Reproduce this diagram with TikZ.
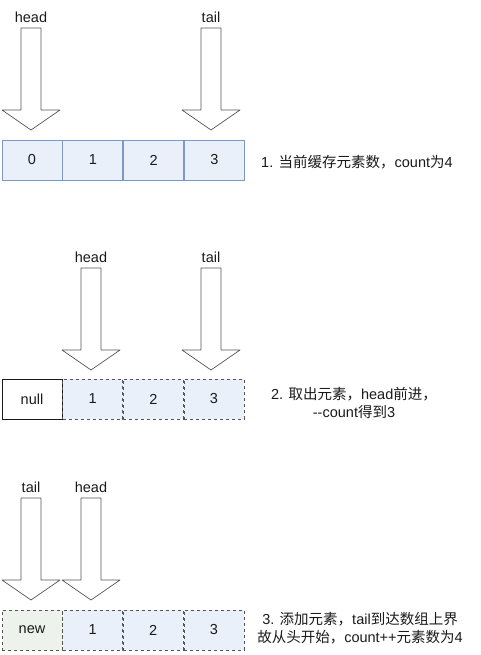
\documentclass[tikz,border=0pt]{standalone}
\usepackage{fontspec}
\setmainfont{Liberation Sans}
\newfontfamily\cjk{Noto Sans CJK SC}
\usepackage{tikz}
\usetikzlibrary{positioning}
\definecolor{cCellBlue}{HTML}{E9F0FA}
\definecolor{cBorderBlue}{HTML}{7C98C6}
\definecolor{cCellGreen}{HTML}{EEF2EC}
\definecolor{cInk}{HTML}{1A1A1A}
\definecolor{cArrow}{HTML}{555555}
\tikzset{
  cell/.style     ={draw, minimum width=60pt, minimum height=40pt, inner sep=0pt,
                    text=cInk, font=\fontsize{14.5}{17}\selectfont},
  bluecell/.style ={cell, fill=cCellBlue, draw=cBorderBlue, line width=0.8pt},
  dashcell/.style ={cell, fill=cCellBlue, draw=cArrow, dashed, line width=0.6pt},
  nullcell/.style ={cell, fill=white, draw=cInk, line width=0.8pt},
  newcell/.style  ={cell, fill=cCellGreen, draw=cArrow, dashed, line width=0.6pt},
  lbl/.style      ={text=cInk, font=\fontsize{14.5}{17}\selectfont, inner sep=0pt},
  desc/.style     ={text=cInk, font=\fontsize{14.5}{18}\selectfont, inner sep=0pt, align=center},
  downarrow/.pic  ={\draw[cArrow, fill=white, line width=0.7pt, line join=round]
                    (-10,0) -- (10,0) -- (10,82) -- (29,82) -- (0,102) -- (-29,82) -- (-10,82) -- cycle;},
}
\begin{document}
\begin{tikzpicture}[x=1pt, y=-1pt]
  \useasboundingbox (0,0) rectangle (481,655);
  % step 1: full buffer
  \node[lbl] (head1) at (31,17) {head};
  \node[lbl] (tail1) at (211,17) {tail};
  \pic at (31,28) {downarrow};
  \pic at (211,28) {downarrow};
  \node[bluecell] (a0) at (32,160) {0};
  \node[bluecell, right=0pt of a0] (a1) {1};
  \node[bluecell, right=0pt of a1] (a2) {2};
  \node[bluecell, right=0pt of a2] (a3) {3};
  \node[desc, anchor=west] (note1) at (261,162) {1. {\cjk 当前缓存元素数，}count{\cjk 为}4};
  % step 2: take one element
  \node[lbl] (head2) at (91,257) {head};
  \node[lbl] (tail2) at (211,257) {tail};
  \pic at (91,268) {downarrow};
  \pic at (211,268) {downarrow};
  \node[nullcell] (b0) at (32,399) {null};
  \node[dashcell, right=0pt of b0] (b1) {1};
  \node[dashcell, right=0pt of b1] (b2) {2};
  \node[dashcell, right=0pt of b2] (b3) {3};
  \node[desc] (note2) at (354,403) {2. {\cjk 取出元素，}head{\cjk 前进，}\\\mbox{-}\mbox{-}count{\cjk 得到}3};
  % step 3: add element, tail wraps round
  \node[lbl] (tail3) at (31,487) {tail};
  \node[lbl] (head3) at (91,487) {head};
  \pic at (31,498) {downarrow};
  \pic at (91,498) {downarrow};
  \node[newcell] (c0) at (32,630) {new};
  \node[dashcell, right=0pt of c0] (c1) {1};
  \node[dashcell, right=0pt of c1] (c2) {2};
  \node[dashcell, right=0pt of c2] (c3) {3};
  \node[desc] (note3) at (360,628) {3. {\cjk 添加元素，}tail{\cjk 到达数组上界}\\{\cjk 故从头开始，}count++{\cjk 元素数为}4};
\end{tikzpicture}
\end{document}
